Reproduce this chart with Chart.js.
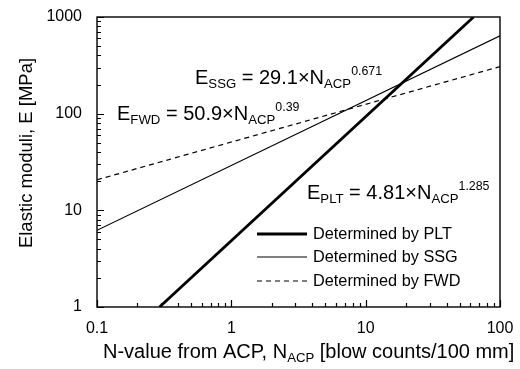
<!DOCTYPE html>
<html>
<head>
<meta charset="utf-8">
<script src="https://cdn.jsdelivr.net/npm/chart.js@4.4.1/dist/chart.umd.min.js"></script>
<style>
  html, body { margin: 0; padding: 0; background: #fff; }
  #wrap { width: 520px; height: 369px; }
</style>
</head>
<body>
<div id="wrap"><canvas id="chart" width="520" height="369"></canvas></div>
<script>
const FONT = '"Liberation Sans", Arial, sans-serif';

// fitted relations E = a * N^b
const fitNames = ['PLT', 'SSG', 'FWD'];
const fitCoef = [4.81, 29.1, 50.9];
const fitExp = ['1.285', '0.671', '0.39'];

// end points of each fitted line (straight on log-log axes)
const pltN = [0.292, 63.6];
const pltE = [1.0, 1000];
const ssgN = [0.1, 100];
const ssgE = [6.21, 640];
const fwdN = [0.1, 100];
const fwdE = [20.7, 307];

const seriesNames = ['Determined by PLT', 'Determined by SSG', 'Determined by FWD'];

const xTickLabels = [0.1, 1, 10, 100];
const yTickLabels = [1, 10, 100, 1000];
const minorSteps = [2, 3, 4, 5, 6, 7, 8, 9];

function points(xs, ys) {
  return xs.map((x, i) => ({ x: x, y: ys[i] }));
}

function minorTicks(majors) {
  const out = [];
  majors.slice(0, -1).forEach(m => minorSteps.forEach(s => out.push(m * s)));
  return out;
}

// text with sub/superscripts, parts = [[text, 'sub'|'sup'|undefined], ...]
function drawRich(ctx, parts, x, y, size) {
  ctx.textAlign = 'left';
  ctx.textBaseline = 'alphabetic';
  parts.forEach(p => {
    let fs = size, dy = 0;
    if (p[1] === 'sub') { fs = size * 0.66; dy = size * 0.2; }
    if (p[1] === 'sup') { fs = size * 0.62; dy = -size * 0.45; }
    ctx.font = fs + 'px ' + FONT;
    ctx.fillText(p[0], x, y + dy);
    x += ctx.measureText(p[0]).width;
  });
}

function fitLabel(i) {
  return [['E'], [fitNames[i], 'sub'], [' = ' + fitCoef[i] + '\u00d7N'], ['ACP', 'sub'], [fitExp[i], 'sup']];
}

const styles = [
  { borderWidth: 2.8, borderDash: [] },
  { borderWidth: 1.2, borderDash: [] },
  { borderWidth: 1.2, borderDash: [5, 4] }
];

const decorations = {
  id: 'decorations',
  afterDatasetsDraw(chart) {
    const ctx = chart.ctx;
    const a = chart.chartArea;
    const xs = chart.scales.x, ys = chart.scales.y;
    ctx.save();
    ctx.strokeStyle = '#000';
    ctx.fillStyle = '#000';

    // frame
    ctx.lineWidth = 1.4;
    ctx.setLineDash([]);
    ctx.strokeRect(a.left, a.top, a.right - a.left, a.bottom - a.top);

    // inward tick marks
    ctx.lineWidth = 1.2;
    ctx.beginPath();
    xTickLabels.forEach(v => {
      const px = Math.round(xs.getPixelForValue(v)) + 0.5;
      ctx.moveTo(px, a.bottom); ctx.lineTo(px, a.bottom - 7);
    });
    minorTicks(xTickLabels).forEach(v => {
      const px = Math.round(xs.getPixelForValue(v)) + 0.5;
      ctx.moveTo(px, a.bottom); ctx.lineTo(px, a.bottom - 4);
    });
    yTickLabels.forEach(v => {
      const py = Math.round(ys.getPixelForValue(v)) + 0.5;
      ctx.moveTo(a.left, py); ctx.lineTo(a.left + 7, py);
    });
    minorTicks(yTickLabels).forEach(v => {
      const py = Math.round(ys.getPixelForValue(v)) + 0.5;
      ctx.moveTo(a.left, py); ctx.lineTo(a.left + 4, py);
    });
    ctx.stroke();

    // fit equations
    drawRich(ctx, fitLabel(1), 195, 84, 20);
    drawRich(ctx, fitLabel(2), 117, 120, 20);
    drawRich(ctx, fitLabel(0), 307, 199, 20);

    // legend
    const rows = [234, 257, 281];
    seriesNames.forEach((name, i) => {
      ctx.lineWidth = styles[i].borderWidth;
      ctx.setLineDash(styles[i].borderDash);
      ctx.beginPath();
      ctx.moveTo(257, rows[i]);
      ctx.lineTo(307, rows[i]);
      ctx.stroke();
      ctx.setLineDash([]);
      ctx.font = '16.3px ' + FONT;
      ctx.textAlign = 'left';
      ctx.textBaseline = 'middle';
      ctx.fillText(name, 313, rows[i] + 1);
    });

    // axis titles
    drawRich(ctx, [['N-value from ACP, N'], ['ACP', 'sub'], [' [blow counts/100 mm]']], 103, 358, 20);
    ctx.translate(27, 153);
    ctx.rotate(-Math.PI / 2);
    ctx.font = '18.5px ' + FONT;
    ctx.textAlign = 'center';
    ctx.textBaseline = 'middle';
    ctx.fillText('Elastic moduli, E [MPa]', 0, 0);
    ctx.restore();
  }
};

const tickFont = { family: FONT, size: 16 };

new Chart(document.getElementById('chart'), {
  type: 'line',
  data: {
    datasets: [
      { label: seriesNames[0], data: points(pltN, pltE) },
      { label: seriesNames[1], data: points(ssgN, ssgE) },
      { label: seriesNames[2], data: points(fwdN, fwdE) }
    ].map((d, i) => Object.assign(d, styles[i], {
      borderColor: '#000', pointRadius: 0, fill: false, tension: 0
    }))
  },
  options: {
    responsive: false,
    animation: false,
    devicePixelRatio: 1,
    layout: { padding: { left: 0, top: 17, right: 20, bottom: 0 } },
    plugins: { legend: { display: false }, tooltip: { enabled: false } },
    scales: {
      x: {
        type: 'logarithmic', min: 0.1, max: 100,
        afterBuildTicks: s => { s.ticks = xTickLabels.map(v => ({ value: v })); },
        afterFit: s => { s.height = 62; s.paddingLeft = 0; s.paddingRight = 0; },
        grid: { display: false, drawTicks: false },
        border: { display: false },
        ticks: { autoSkip: false, maxRotation: 0, padding: 12, color: '#000', font: tickFont,
                 callback: v => String(v) }
      },
      y: {
        type: 'logarithmic', min: 1, max: 1000,
        afterBuildTicks: s => { s.ticks = yTickLabels.map(v => ({ value: v })); },
        afterFit: s => { s.width = 97; s.paddingTop = 0; s.paddingBottom = 0; },
        grid: { display: false, drawTicks: false },
        border: { display: false },
        ticks: { autoSkip: false, padding: 15, color: '#000', font: tickFont,
                 callback: v => String(v) }
      }
    }
  },
  plugins: [decorations]
});
</script>
</body>
</html>
